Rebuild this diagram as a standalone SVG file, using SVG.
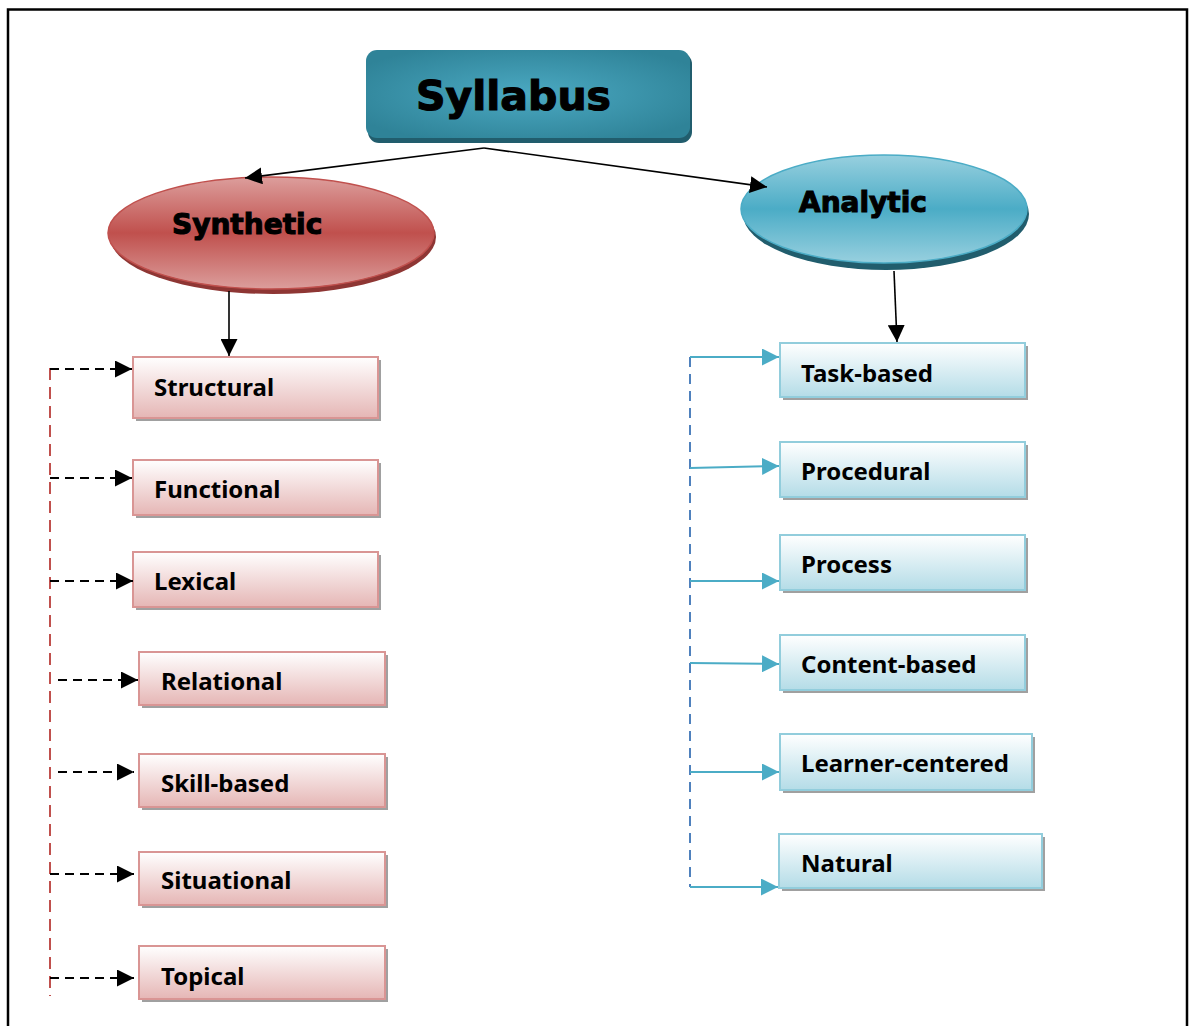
<svg xmlns="http://www.w3.org/2000/svg" width="1189" height="1026" viewBox="0 0 1189 1026">
  <defs>
    <radialGradient id="gTop" cx="0.5" cy="0.5" r="0.6">
      <stop offset="0" stop-color="#4ba9c2"/>
      <stop offset="1" stop-color="#2f8398"/>
    </radialGradient>
    <linearGradient id="gSyn" x1="0" y1="0" x2="0" y2="1">
      <stop offset="0" stop-color="#dc9e9c"/>
      <stop offset="0.5" stop-color="#c0504d"/>
      <stop offset="1" stop-color="#dc9e9c"/>
    </linearGradient>
    <linearGradient id="gAna" x1="0" y1="0" x2="0" y2="1">
      <stop offset="0" stop-color="#98d0df"/>
      <stop offset="0.5" stop-color="#4bacc6"/>
      <stop offset="1" stop-color="#98d0df"/>
    </linearGradient>
    <linearGradient id="gPink" x1="0" y1="0" x2="0" y2="1">
      <stop offset="0" stop-color="#ffffff"/>
      <stop offset="1" stop-color="#e5b6b5"/>
    </linearGradient>
    <linearGradient id="gBlue" x1="0" y1="0" x2="0" y2="1">
      <stop offset="0" stop-color="#ffffff"/>
      <stop offset="1" stop-color="#b4dce7"/>
    </linearGradient>
    <marker id="aBlack" viewBox="0 0 10 10" refX="10" refY="5" markerWidth="17" markerHeight="17" markerUnits="userSpaceOnUse" orient="auto">
      <path d="M0,0 L10,5 L0,10 Z" fill="#000"/>
    </marker>
    <marker id="aTeal" viewBox="0 0 10 10" refX="10" refY="5" markerWidth="17" markerHeight="17" markerUnits="userSpaceOnUse" orient="auto">
      <path d="M0,0 L10,5 L0,10 Z" fill="#4bacc6"/>
    </marker>
    <style>
      .title { font-family: "DejaVu Sans", sans-serif; font-weight: bold; fill: #000; stroke: #000; stroke-width: 1.1; }
      .lbl { font-family: "Noto Sans", "Open Sans", sans-serif; font-weight: bold; font-size: 24px; fill: #000; }
      .shadow { fill: #a0a0a0; }
      .pink { fill: url(#gPink); stroke: #d99594; stroke-width: 2; }
      .blue { fill: url(#gBlue); stroke: #92cddc; stroke-width: 2; }
      .solid { stroke: #000; stroke-width: 1.6; fill: none; }
      .dash { stroke: #000; stroke-width: 2; fill: none; stroke-dasharray: 9 6; }
      .tealArrow { stroke: #4bacc6; stroke-width: 2; fill: none; }
    </style>
  </defs>

  <rect width="1189" height="1026" fill="#fff"/>

  <!-- page frame, open at the bottom -->
  <path d="M8,1026 V9.5 H1187 V1026" fill="none" stroke="#000" stroke-width="2.5"/>

  <!-- root -->
  <g id="node-syllabus">
    <rect x="368" y="53" width="324" height="90" rx="11" fill="#215d6d"/>
    <rect x="366" y="50" width="324" height="88" rx="11" fill="url(#gTop)"/>
    <text class="title" x="416" y="110" font-size="41">Syllabus</text>
  </g>

  <g id="node-synthetic">
    <ellipse cx="273" cy="237" rx="163" ry="57" fill="#8e3634"/>
    <ellipse cx="271" cy="233" rx="163" ry="56" fill="url(#gSyn)" stroke="#c0504d" stroke-width="1.5"/>
    <text class="title" x="172" y="234" font-size="28">Synthetic</text>
  </g>

  <g id="node-analytic">
    <ellipse cx="886" cy="214" rx="143" ry="56" fill="#215d6d"/>
    <ellipse cx="884" cy="209" rx="143" ry="54" fill="url(#gAna)" stroke="#4bacc6" stroke-width="1.5"/>
    <text class="title" x="799" y="212" font-size="28">Analytic</text>
  </g>

  <!-- synthetic types -->
  <g id="node-structural">
    <rect class="shadow" x="136" y="360" width="245" height="61"/>
    <rect class="pink" x="133" y="357" width="245" height="61"/>
    <text class="lbl" x="154" y="396">Structural</text>
  </g>
  <g id="node-functional">
    <rect class="shadow" x="136" y="463" width="245" height="55"/>
    <rect class="pink" x="133" y="460" width="245" height="55"/>
    <text class="lbl" x="154" y="498">Functional</text>
  </g>
  <g id="node-lexical">
    <rect class="shadow" x="136" y="555" width="245" height="55"/>
    <rect class="pink" x="133" y="552" width="245" height="55"/>
    <text class="lbl" x="154" y="590">Lexical</text>
  </g>
  <g id="node-relational">
    <rect class="shadow" x="142" y="655" width="246" height="53"/>
    <rect class="pink" x="139" y="652" width="246" height="53"/>
    <text class="lbl" x="161" y="690">Relational</text>
  </g>
  <g id="node-skill-based">
    <rect class="shadow" x="142" y="757" width="246" height="53"/>
    <rect class="pink" x="139" y="754" width="246" height="53"/>
    <text class="lbl" x="161" y="792">Skill-based</text>
  </g>
  <g id="node-situational">
    <rect class="shadow" x="142" y="855" width="246" height="53"/>
    <rect class="pink" x="139" y="852" width="246" height="53"/>
    <text class="lbl" x="161" y="889">Situational</text>
  </g>
  <g id="node-topical">
    <rect class="shadow" x="142" y="949" width="246" height="53"/>
    <rect class="pink" x="139" y="946" width="246" height="53"/>
    <text class="lbl" x="161" y="985">Topical</text>
  </g>

  <!-- analytic types -->
  <g id="node-task-based">
    <rect class="shadow" x="783" y="346" width="245" height="54"/>
    <rect class="blue" x="780" y="343" width="245" height="54"/>
    <text class="lbl" x="801" y="382">Task-based</text>
  </g>
  <g id="node-procedural">
    <rect class="shadow" x="783" y="445" width="245" height="55"/>
    <rect class="blue" x="780" y="442" width="245" height="55"/>
    <text class="lbl" x="801" y="480">Procedural</text>
  </g>
  <g id="node-process">
    <rect class="shadow" x="783" y="538" width="245" height="55"/>
    <rect class="blue" x="780" y="535" width="245" height="55"/>
    <text class="lbl" x="801" y="573">Process</text>
  </g>
  <g id="node-content-based">
    <rect class="shadow" x="783" y="638" width="245" height="55"/>
    <rect class="blue" x="780" y="635" width="245" height="55"/>
    <text class="lbl" x="801" y="673">Content-based</text>
  </g>
  <g id="node-learner-centered">
    <rect class="shadow" x="783" y="737" width="252" height="56"/>
    <rect class="blue" x="780" y="734" width="252" height="56"/>
    <text class="lbl" x="801" y="772">Learner-centered</text>
  </g>
  <g id="node-natural">
    <rect class="shadow" x="782" y="837" width="263" height="54"/>
    <rect class="blue" x="779" y="834" width="263" height="54"/>
    <text class="lbl" x="801" y="872">Natural</text>
  </g>

  <!-- connectors -->
  <g id="connectors">
    <path class="solid" d="M484,148 L245,178" marker-end="url(#aBlack)"/>
    <path class="solid" d="M484,148 L767,187" marker-end="url(#aBlack)"/>
    <path class="solid" d="M229,291 V356" marker-end="url(#aBlack)"/>
    <path class="solid" d="M894,271 L897,342" marker-end="url(#aBlack)"/>

    <!-- synthetic spine -->
    <path d="M50,368 V996" fill="none" stroke="#c0504d" stroke-width="2" stroke-dasharray="12 7"/>
    <path class="dash" d="M50,369 H132" marker-end="url(#aBlack)"/>
    <path class="dash" d="M50,478 H132" marker-end="url(#aBlack)"/>
    <path class="dash" d="M50,581 H133" marker-end="url(#aBlack)"/>
    <path class="dash" d="M58,680 H138" marker-end="url(#aBlack)"/>
    <path class="dash" d="M58,772 H134" marker-end="url(#aBlack)"/>
    <path class="dash" d="M50,874 H134" marker-end="url(#aBlack)"/>
    <path class="dash" d="M50,978 H134" marker-end="url(#aBlack)"/>

    <!-- analytic spine -->
    <path d="M690,357 V887" fill="none" stroke="#4f81bd" stroke-width="2" stroke-dasharray="10 7"/>
    <path class="tealArrow" d="M690,357 H779" marker-end="url(#aTeal)"/>
    <path class="tealArrow" d="M690,468 L779,466" marker-end="url(#aTeal)"/>
    <path class="tealArrow" d="M690,581 H779" marker-end="url(#aTeal)"/>
    <path class="tealArrow" d="M690,663 L779,664" marker-end="url(#aTeal)"/>
    <path class="tealArrow" d="M690,772 H779" marker-end="url(#aTeal)"/>
    <path class="tealArrow" d="M690,887 H778" marker-end="url(#aTeal)"/>
  </g>
</svg>
